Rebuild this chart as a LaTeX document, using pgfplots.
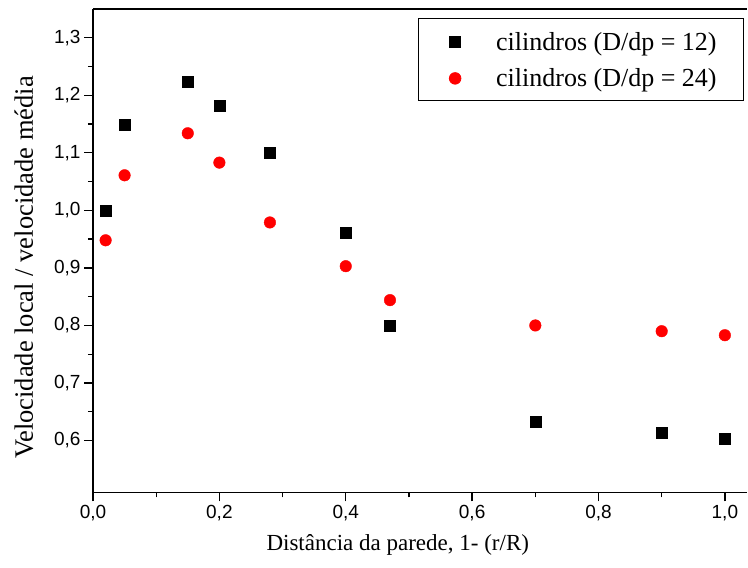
\documentclass[border=0pt]{standalone}
\usepackage{fontspec}
\setmainfont{Liberation Serif}
\newfontfamily\arial{Liberation Sans}
\usepackage{pgfplots}
\pgfplotsset{compat=1.18}
\usetikzlibrary{calc}
\definecolor{pred}{RGB}{255,0,0}

\begin{document}
\begin{tikzpicture}
\begin{axis}[
    scale only axis,
    width=654pt, height=483.3pt,
    xmin=0, xmax=1.035,
    ymin=0.51, ymax=1.35,
    axis x line=box, axis y line=left,
    axis line style={line width=1.5pt, -},
    every outer y axis line/.append style={-},
    xtick={0,0.2,0.4,0.6,0.8,1.0},
    ytick={0.6,0.7,0.8,0.9,1.0,1.1,1.2,1.3},
    minor x tick num=1, minor y tick num=1,
    xtick pos=left, ytick pos=left,
    tick align=outside,
    major tick length=9pt, minor tick length=5pt,
    every tick/.style={black, line width=1.3pt},
    tick label style={font=\arial\fontsize{19}{22}\selectfont},
    /pgf/number format/.cd, use comma, fixed, fixed zerofill, precision=1, assume math mode=true,
    /pgfplots/.cd,
    xlabel={Distância da parede, 1- (r/R)},
    ylabel={Velocidade local / velocidade média},
    xlabel style={font=\fontsize{23}{26}\selectfont,
        at={(rel axis cs:0.466,0)}, anchor=base, yshift=-57.7pt},
    ylabel style={font=\fontsize{26.5}{30}\selectfont,
        at={($(rel axis cs:0,0.465)+(-60pt,0pt)$)}, anchor=base},
    legend style={at={(rel axis cs:0.9954,0.9814)}, anchor=north east,
        draw=black, line width=0.8pt, fill=white,
        inner xsep=0pt, inner ysep=5pt, column sep=0pt, row sep=0pt,
        nodes={inner sep=0pt},
        font=\fontsize{26}{30}\selectfont},
    legend cell align=left,
    legend image code/.code={
        \path[draw=none, fill=none] (0pt,-17pt) rectangle (78pt,19pt);
        \draw[#1] plot coordinates {(37pt,0pt)};
    },
]
\coordinate (o) at (rel axis cs:0,0);
\addplot[only marks, mark=square*, mark size=5.5pt, black] table {
x y
0.02 1.000
0.05 1.149
0.15 1.224
0.20 1.182
0.28 1.100
0.40 0.962
0.47 0.800
0.70 0.632
0.90 0.614
1.00 0.604
};
\addlegendentry{cilindros (D/dp = 12)\hspace*{27pt}}
\addplot[only marks, mark=*, mark size=5.8pt, color=pred, fill=pred] table {
x y
0.02 0.948
0.05 1.061
0.15 1.134
0.20 1.083
0.28 0.979
0.40 0.903
0.47 0.844
0.70 0.800
0.90 0.790
1.00 0.783
};
\addlegendentry{cilindros (D/dp = 24)\hspace*{27pt}}
\end{axis}
\pgfresetboundingbox
\path (o) ++(-93pt,-75.7pt) rectangle ++(748pt,568pt);
\end{tikzpicture}
\end{document}
